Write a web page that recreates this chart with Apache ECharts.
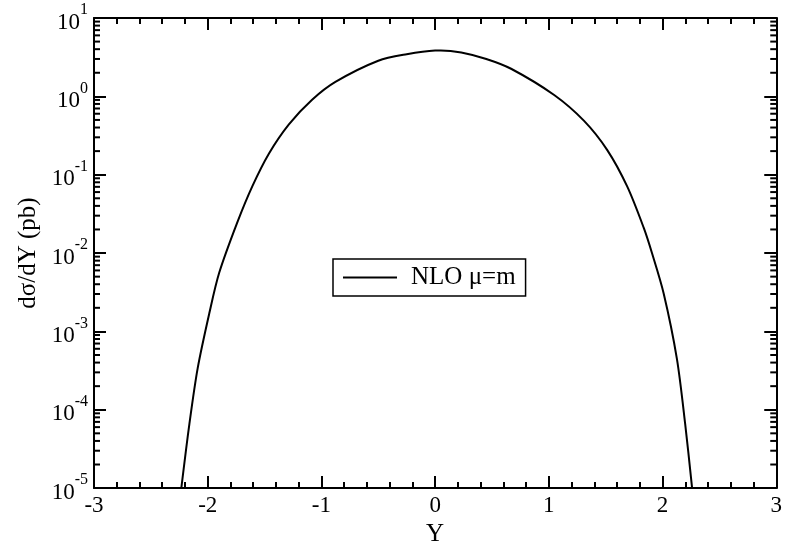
<!DOCTYPE html>
<html>
<head>
<meta charset="utf-8">
<script src="https://cdn.jsdelivr.net/npm/echarts@6/dist/echarts.min.js"></script>
<style>
  html, body { margin: 0; padding: 0; background: #fff; }
  #chart { width: 785px; height: 552px; }
</style>
</head>
<body>
<div id="chart"></div>
<script>
// Rapidity distribution, NLO with scale mu = m
const rapidity = [-2.232, -2.161, -2.088, -1.986, -1.899, -1.738, -1.607, -1.461, -1.286,
                  -1.082, -0.877, -0.5, -0.25, 0.0, 0.05, 0.23, 0.45, 0.668, 1.047,
                  1.31, 1.514, 1.689, 1.835, 1.907, 2.01, 2.126, 2.199, 2.26];
const dSigmaDY = [1.0e-5, 6.6e-5, 3.4e-4, 1.7e-3, 5.6e-3, 0.025, 0.0716, 0.187, 0.44,
                  0.906, 1.53, 2.85, 3.45, 3.85, 3.86, 3.63, 3.0, 2.25, 1.04,
                  0.486, 0.206, 0.0708, 0.0209, 0.0100, 0.00305, 4.5e-4, 6.6e-5, 1.0e-5];
const seriesName = 'NLO \u03bc=m';

// Axis ranges
const xMin = -3, xMax = 3, xStep = 1;
const yMin = 1e-5, yMax = 10;
const decadeExponents = [-5, -4, -3, -2, -1, 0, 1];
const minorMantissas = [2, 3, 4, 5, 6, 7, 8, 9];

// Minor tick values inside each decade of the log axis
const yMinorTicks = [];
decadeExponents.slice(0, -1).forEach(e => {
  minorMantissas.forEach(m => yMinorTicks.push(m * Math.pow(10, e)));
});

const FONT = 'Liberation Serif';
const INK = '#000';

const chart = echarts.init(document.getElementById('chart'), null, { renderer: 'canvas' });

const xAxisBase = {
  type: 'value', min: xMin, max: xMax, interval: xStep,
  axisLine: { onZero: false, lineStyle: { color: INK, width: 2 } },
  axisTick: { inside: true, length: 12, lineStyle: { color: INK, width: 2 } },
  minorTick: { show: true, splitNumber: 5, length: 6, lineStyle: { color: INK, width: 2 } },
  splitLine: { show: false }
};

const yAxisBase = {
  type: 'log', logBase: 10, min: yMin, max: yMax, splitNumber: 6,
  axisLine: { show: true, onZero: false, lineStyle: { color: INK, width: 2 } },
  axisTick: { show: true, inside: true, length: 12, lineStyle: { color: INK, width: 2 } },
  minorTick: { show: false },
  splitLine: { show: false }
};

const option = {
  backgroundColor: '#fff',
  animation: false,
  grid: { left: 94, right: 5, top: 18, bottom: 53, containLabel: false },
  xAxis: [
    Object.assign({}, xAxisBase, {
      position: 'bottom',
      name: 'Y', nameLocation: 'middle', nameGap: 27,
      nameTextStyle: { fontFamily: FONT, fontSize: 25, color: INK },
      axisLabel: {
        show: true, margin: 6, fontFamily: FONT, fontSize: 23, color: INK,
        formatter: v => String(v)
      }
    }),
    Object.assign({}, xAxisBase, { position: 'top', axisLabel: { show: false } })
  ],
  yAxis: [
    Object.assign({}, yAxisBase, {
      position: 'left',
      name: 'd\u03c3/dY (pb)', nameLocation: 'middle', nameGap: 51,
      nameTextStyle: { fontFamily: FONT, fontSize: 25, color: INK },
      axisLabel: {
        show: true, margin: 6, color: INK,
        formatter: v => '{b|10}{s|' + Math.round(Math.log10(v)) + '}',
        rich: {
          b: { fontFamily: FONT, fontSize: 23, color: INK, verticalAlign: 'bottom', lineHeight: 32 },
          s: { fontFamily: FONT, fontSize: 16, color: INK, verticalAlign: 'top', lineHeight: 32 }
        }
      }
    }),
    Object.assign({}, yAxisBase, { position: 'right', axisLabel: { show: false } })
  ],
  legend: {
    show: true,
    left: 333, top: 259,
    orient: 'horizontal',
    backgroundColor: '#fff',
    borderColor: INK, borderWidth: 1.5, borderRadius: 0,
    padding: [6, 10, 6, 10],
    icon: 'rect', itemWidth: 54, itemHeight: 2,
    itemStyle: { color: INK },
    textStyle: { fontFamily: FONT, fontSize: 25, color: INK, padding: [0, 0, 0, 9] },
    data: [seriesName]
  },
  series: [
    {
      name: seriesName,
      type: 'line',
      xAxisIndex: 0, yAxisIndex: 0,
      data: rapidity.map((y, i) => [y, dSigmaDY[i]]),
      showSymbol: false, symbol: 'none',
      smooth: 0.3,
      lineStyle: { color: INK, width: 2 },
      itemStyle: { color: INK },
      clip: true,
      z: 3
    },
    {
      // minor ticks of the log axes, placed through the y scale on both sides
      type: 'custom',
      xAxisIndex: 0, yAxisIndex: 0,
      silent: true,
      clip: false,
      data: yMinorTicks.map(v => [xMin, v]),
      renderItem: (params, api) => {
        const p = api.coord([xMin, api.value(1)]);
        const cs = params.coordSys;
        const style = { stroke: INK, lineWidth: 2 };
        return {
          type: 'group',
          children: [
            { type: 'line', shape: { x1: cs.x, y1: p[1], x2: cs.x + 6, y2: p[1] }, style },
            { type: 'line', shape: { x1: cs.x + cs.width - 6, y1: p[1], x2: cs.x + cs.width, y2: p[1] }, style }
          ]
        };
      },
      z: 4
    }
  ]
};

chart.setOption(option);
</script>
</body>
</html>
